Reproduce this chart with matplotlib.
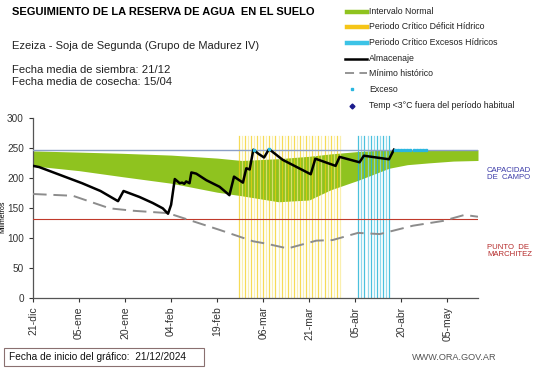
import matplotlib
matplotlib.use("Agg")
import matplotlib.pyplot as plt
from matplotlib.lines import Line2D
from matplotlib.patches import Rectangle

plt.rcParams["font.family"] = ["Liberation Sans", "DejaVu Sans"]

# =====================================================
# =========              Data                 =========
# =====================================================

# days counted from 21/12/2024
TICK_DAYS = [0, 15, 30, 45, 60, 75, 90, 105, 120, 135]
TICK_LABELS = ["21-dic", "05-ene", "20-ene", "04-feb", "19-feb",
               "06-mar", "21-mar", "05-abr", "20-abr", "05-may"]

BAND_DAYS = [0, 15, 29, 45, 60, 68, 80, 90, 97, 106, 116, 122, 129, 137, 145]
BAND_LOW = [220, 212, 202, 191, 176, 170, 160, 163, 180, 196, 216, 222, 225, 228, 229]
BAND_HIGH = [245, 243, 241, 238, 233, 229, 232, 236, 240, 244, 247, 247, 247, 247, 247]

ALM_DAYS = [0, 2, 16, 22, 27.7, 29.5, 34.7, 39, 42.3, 44, 45, 46.2, 47.8, 48.6,
            49.3, 49.9, 51, 51.6, 53.2, 56.5, 60.8, 64, 65.5, 68.4, 69.5, 70.6,
            71.8, 73.5, 75.3, 76.9, 81.4, 90.5, 92, 98.6, 99.9, 106.4, 107.8,
            116, 117.6]
ALM_VALS = [220, 218, 191, 178, 161, 178, 168, 158, 149, 140, 155, 198, 191, 192,
            190, 194, 191, 209, 207, 196, 185, 171, 202, 192, 216, 214,
            247, 240, 234, 248, 230, 206, 232, 220, 235, 226, 237,
            231, 247]

MIN_DAYS = [0, 13, 25, 32.6, 44, 50, 60.8, 71.7, 76, 83, 92.3, 97.6, 105.9,
            113, 123.8, 133.6, 140.6, 145]
MIN_VALS = [173, 170, 149, 145, 141, 131, 113, 94, 90, 82, 95, 96, 108,
            106, 120, 128, 138, 135]

DEFICIT_DAYS = [67, 68, 69, 70, 71, 72, 73, 74, 75, 76, 77, 78, 79, 80, 81, 82, 83,
                84, 85, 86, 87, 88, 89, 90, 91, 92, 93, 94, 95, 96, 97, 98, 99, 100]
EXCESS_PERIOD_DAYS = [106, 107, 108, 109, 110, 111, 112, 113, 114, 115, 116]

EXCESO_DAYS = [72, 77, 118, 119, 120, 121, 122, 123, 124, 125, 126, 127, 128]
EXCESO_VALS = [247, 248, 247, 247, 247, 247, 247, 247, 247, 247, 247, 247, 247]

CAPACIDAD_CAMPO = 247
PUNTO_MARCHITEZ = 131

W, H = 541, 368


def fx(x):
    return x / W


def fy(y):
    return 1 - y / H


# =====================================================
# =========              Plot                 =========
# =====================================================

fig = plt.figure(figsize=(W / 100, H / 100), dpi=100)
ax = fig.add_axes([fx(33), fy(297.5), fx(478) - fx(33), fy(118) - fy(297.5)])

ax.fill_between(BAND_DAYS, BAND_LOW, BAND_HIGH, color="#8fc31f", lw=0, zorder=1)

for i, d in enumerate(DEFICIT_DAYS):
    c = "#f3cd10" if i % 2 == 0 else "#f9e98c"
    ax.plot([d, d], [0, 270], color=c, lw=0.9, alpha=0.7, zorder=2)
for i, d in enumerate(EXCESS_PERIOD_DAYS):
    c = "#2bb5d8" if i % 2 == 0 else "#7fd3ea"
    ax.plot([d, d], [0, 270], color=c, lw=0.9, alpha=0.85, zorder=2)

ax.axhline(CAPACIDAD_CAMPO, color="#8c9fc6", lw=1.0, zorder=3)
ax.axhline(PUNTO_MARCHITEZ, color="#c0392b", lw=0.8, zorder=3)

ax.plot(MIN_DAYS, MIN_VALS, color="#8c8c8c", lw=1.4, dashes=(7, 3.5), zorder=4)
ax.plot(ALM_DAYS, ALM_VALS, color="black", lw=1.8, zorder=5)
ax.plot(EXCESO_DAYS, EXCESO_VALS, ls="none", marker="s", ms=1.6,
        color="#29b6e0", zorder=6)

ax.set_xlim(0, 145)
ax.set_ylim(0, 300)
ax.set_xticks(TICK_DAYS)
ax.set_xticklabels(TICK_LABELS, rotation=90, fontsize=7.5, color="#333333")
ax.set_yticks([0, 50, 100, 150, 200, 250, 300])
ax.tick_params(axis="y", labelsize=7.2, colors="#333333", length=3, width=0.8)
ax.tick_params(axis="x", length=3, width=0.8, colors="#333333")
for s in ["top", "right"]:
    ax.spines[s].set_visible(False)
for s in ["left", "bottom"]:
    ax.spines[s].set_color("#555555")
    ax.spines[s].set_linewidth(0.9)
ax.set_ylabel("Milimetros", fontsize=5, labelpad=0)
ax.yaxis.set_label_coords(-0.059, 0.45)

# header texts
fig.text(fx(12), fy(12), "SEGUIMIENTO DE LA RESERVA DE AGUA  EN EL SUELO",
         fontsize=8.0, fontweight="bold", va="center")
fig.text(fx(12), fy(46), "Ezeiza - Soja de Segunda (Grupo de Madurez IV)",
         fontsize=8.0, va="center", color="#222222")
fig.text(fx(12), fy(70), "Fecha media de siembra: 21/12", fontsize=8.1,
         va="center", color="#222222")
fig.text(fx(12), fy(82), "Fecha media de cosecha: 15/04", fontsize=8.1,
         va="center", color="#222222")

# legend
LEG_X0, LEG_X1, LEG_TX = 347, 367, 369
rows = [11.7, 26.7, 42.7, 58.7, 73.3, 89.3, 106]
fig.add_artist(Line2D([fx(LEG_X0), fx(LEG_X1)], [fy(rows[0])] * 2, color="#8fc31f", lw=3.2))
fig.add_artist(Line2D([fx(LEG_X0), fx(LEG_X1)], [fy(rows[1])] * 2, color="#f5c518", lw=3.2))
fig.add_artist(Line2D([fx(LEG_X0), fx(LEG_X1)], [fy(rows[2])] * 2, color="#3cc3e6", lw=3.2))
fig.add_artist(Line2D([fx(LEG_X0 - 2), fx(LEG_X1)], [fy(rows[3])] * 2, color="black", lw=1.8))
fig.add_artist(Line2D([fx(LEG_X0 - 2), fx(LEG_X1)], [fy(rows[4])] * 2, color="#8c8c8c",
                      lw=1.3, dashes=(5, 3)))
fig.add_artist(Line2D([fx(352)], [fy(rows[5])], color="#29b6e0", marker="s", ms=2, ls="none"))
fig.add_artist(Line2D([fx(352)], [fy(rows[6])], color="#1a1a8c", marker="D", ms=2.5, ls="none"))
labels = ["Intervalo Normal", "Periodo Crítico Déficit Hídrico",
          "Periodo Crítico Excesos Hídricos", "Almacenaje", "Mínimo histórico"]
for r, t in zip(rows[:5], labels):
    fig.text(fx(LEG_TX), fy(r), t, fontsize=6.3, va="center", color="#222222")
fig.text(fx(LEG_TX), fy(rows[5]), "Exceso", fontsize=6.3, va="center", color="#222222")
fig.text(fx(LEG_TX), fy(rows[6]), "Temp <3°C fuera del período habitual", fontsize=6.3,
         va="center", color="#222222")

# reference line labels
fig.text(fx(487), fy(174), "CAPACIDAD\nDE  CAMPO", fontsize=5.6, va="center",
         color="#3b3ba8", linespacing=1.1)
fig.text(fx(487), fy(251), "PUNTO  DE\nMARCHITEZ", fontsize=5.6, va="center",
         color="#b52a2a", linespacing=1.1)

# footer
fig.add_artist(Rectangle((fx(3.5), fy(366)), fx(204) - fx(3.5), fy(348) - fy(366),
                         transform=fig.transFigure, fill=False, ec="#8a7070", lw=0.8))
fig.text(fx(9), fy(357), "Fecha de inicio del gráfico:  21/12/2024", fontsize=7.3,
         va="center", color="#111111")
fig.text(fx(412), fy(358), "WWW.ORA.GOV.AR", fontsize=6.6, va="center", color="#555555")

fig.savefig("out.png", dpi=100)
plt.close(fig)
